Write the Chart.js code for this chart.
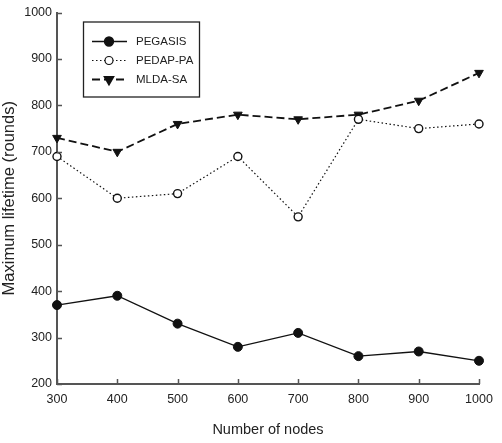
<!DOCTYPE html>
<html>
<head>
<meta charset="utf-8">
<script src="https://cdn.jsdelivr.net/npm/chart.js@4.4.1/dist/chart.umd.min.js"></script>
<style>
  html, body { margin: 0; padding: 0; background: #fff; }
  #wrap { width: 502px; height: 443px; }
</style>
</head>
<body>
<div id="wrap"><canvas id="chart"></canvas></div>
<script>
// values
const nodes = [300, 400, 500, 600, 700, 800, 900, 1000];
const pegasis = [370, 390, 330, 280, 310, 260, 270, 250];
const pedapPa = [690, 600, 610, 690, 560, 770, 750, 760];
const mldaSa = [730, 700, 760, 780, 770, 780, 810, 870];
const seriesNames = ['PEGASIS', 'PEDAP-PA', 'MLDA-SA'];
const yMin = 200, yMax = 1000, yStep = 100;

const FONT = '"Liberation Sans", Arial, sans-serif';
const INK = '#111';

const toPoints = vals => vals.map((v, i) => ({ x: nodes[i], y: v }));

// small inward tick marks like the original
const innerTicks = {
  id: 'innerTicks',
  afterDraw(chart) {
    const { ctx, chartArea, scales } = chart;
    ctx.save();
    ctx.strokeStyle = '#555';
    ctx.lineWidth = 1.5;
    ctx.beginPath();
    scales.x.ticks.forEach(t => {
      const px = Math.round(scales.x.getPixelForValue(t.value)) + 0.5;
      ctx.moveTo(px, chartArea.bottom);
      ctx.lineTo(px, chartArea.bottom - 5);
    });
    scales.y.ticks.forEach(t => {
      const py = Math.round(scales.y.getPixelForValue(t.value)) + 0.5;
      ctx.moveTo(chartArea.left, py);
      ctx.lineTo(chartArea.left + 5, py);
    });
    ctx.stroke();
    ctx.restore();
  }
};

// boxed legend with line + marker samples
const boxLegend = {
  id: 'boxLegend',
  afterDraw(chart) {
    const { ctx, chartArea } = chart;
    const x0 = chartArea.left + 26, y0 = chartArea.top + 9;
    const w = 116, h = 75;
    ctx.save();
    ctx.setLineDash([]);
    ctx.lineWidth = 1.3;
    ctx.strokeStyle = '#222';
    ctx.fillStyle = '#fff';
    ctx.fillRect(x0, y0, w, h);
    ctx.strokeRect(x0 + 0.5, y0 + 0.5, w, h);
    chart.data.datasets.forEach((ds, i) => {
      const y = y0 + 20 + i * 19;
      ctx.setLineDash(ds.borderDash || []);
      ctx.lineWidth = ds.borderWidth;
      ctx.strokeStyle = ds.borderColor;
      ctx.beginPath();
      ctx.moveTo(x0 + 9, y);
      ctx.lineTo(x0 + 44, y);
      ctx.stroke();
      ctx.setLineDash([]);
      ctx.fillStyle = ds.pointBackgroundColor;
      ctx.strokeStyle = ds.pointBorderColor;
      Chart.helpers.drawPoint(ctx, {
        pointStyle: ds.pointStyle,
        rotation: ds.pointRotation || 0,
        radius: ds.pointRadius,
        borderWidth: ds.pointBorderWidth
      }, x0 + 26, y);
      ctx.fillStyle = '#222';
      ctx.font = '11.5px ' + FONT;
      ctx.textBaseline = 'middle';
      ctx.fillText(ds.label, x0 + 53, y);
    });
    ctx.restore();
  }
};

new Chart(document.getElementById('chart'), {
  type: 'line',
  data: {
    datasets: [
      {
        label: seriesNames[0],
        data: toPoints(pegasis),
        borderColor: INK,
        borderWidth: 1.3,
        pointStyle: 'circle',
        pointRadius: 4.5,
        pointBackgroundColor: INK,
        pointBorderColor: INK,
        pointBorderWidth: 1
      },
      {
        label: seriesNames[1],
        data: toPoints(pedapPa),
        borderColor: INK,
        borderWidth: 1.2,
        borderDash: [1.5, 2.5],
        pointStyle: 'circle',
        pointRadius: 4,
        pointBackgroundColor: '#fff',
        pointBorderColor: INK,
        pointBorderWidth: 1.4
      },
      {
        label: seriesNames[2],
        data: toPoints(mldaSa),
        borderColor: INK,
        borderWidth: 1.8,
        borderDash: [8, 4],
        pointStyle: 'triangle',
        pointRotation: 180,
        pointRadius: 5,
        pointBackgroundColor: INK,
        pointBorderColor: INK,
        pointBorderWidth: 1
      }
    ]
  },
  options: {
    responsive: true,
    maintainAspectRatio: false,
    animation: false,
    clip: false,
    layout: { padding: { left: 0, right: 23, top: 8, bottom: 4 } },
    plugins: {
      legend: { display: false },
      tooltip: { enabled: false }
    },
    elements: { line: { tension: 0, fill: false } },
    scales: {
      x: {
        type: 'linear',
        min: nodes[0],
        max: nodes[nodes.length - 1],
        afterBuildTicks: s => { s.ticks = nodes.map(v => ({ value: v })); },
        afterFit: s => { s.height = 55; },
        grid: { display: true, drawOnChartArea: false, drawTicks: false },
        border: { display: true, color: '#555', width: 2 },
        ticks: {
          padding: 8, color: '#222', maxRotation: 0,
          font: { family: FONT, size: 12.5 },
          callback: v => String(v)
        },
        title: {
          display: true,
          text: 'Number of nodes',
          color: '#222',
          font: { family: FONT, size: 14.5 },
          padding: { top: 0, bottom: 0 }
        }
      },
      y: {
        min: yMin,
        max: yMax,
        ticks: {
          stepSize: yStep, padding: 5, color: '#222',
          font: { family: FONT, size: 12.5 },
          callback: v => String(v)
        },
        afterFit: s => { s.width = 57; },
        grid: { display: true, drawOnChartArea: false, drawTicks: false },
        border: { display: true, color: '#555', width: 2 },
        title: {
          display: true,
          text: 'Maximum lifetime (rounds)',
          color: '#222',
          font: { family: FONT, size: 16.5, lineHeight: 1.1 },
          padding: { top: 0, bottom: 0 }
        }
      }
    }
  },
  plugins: [innerTicks, boxLegend]
});
</script>
</body>
</html>
